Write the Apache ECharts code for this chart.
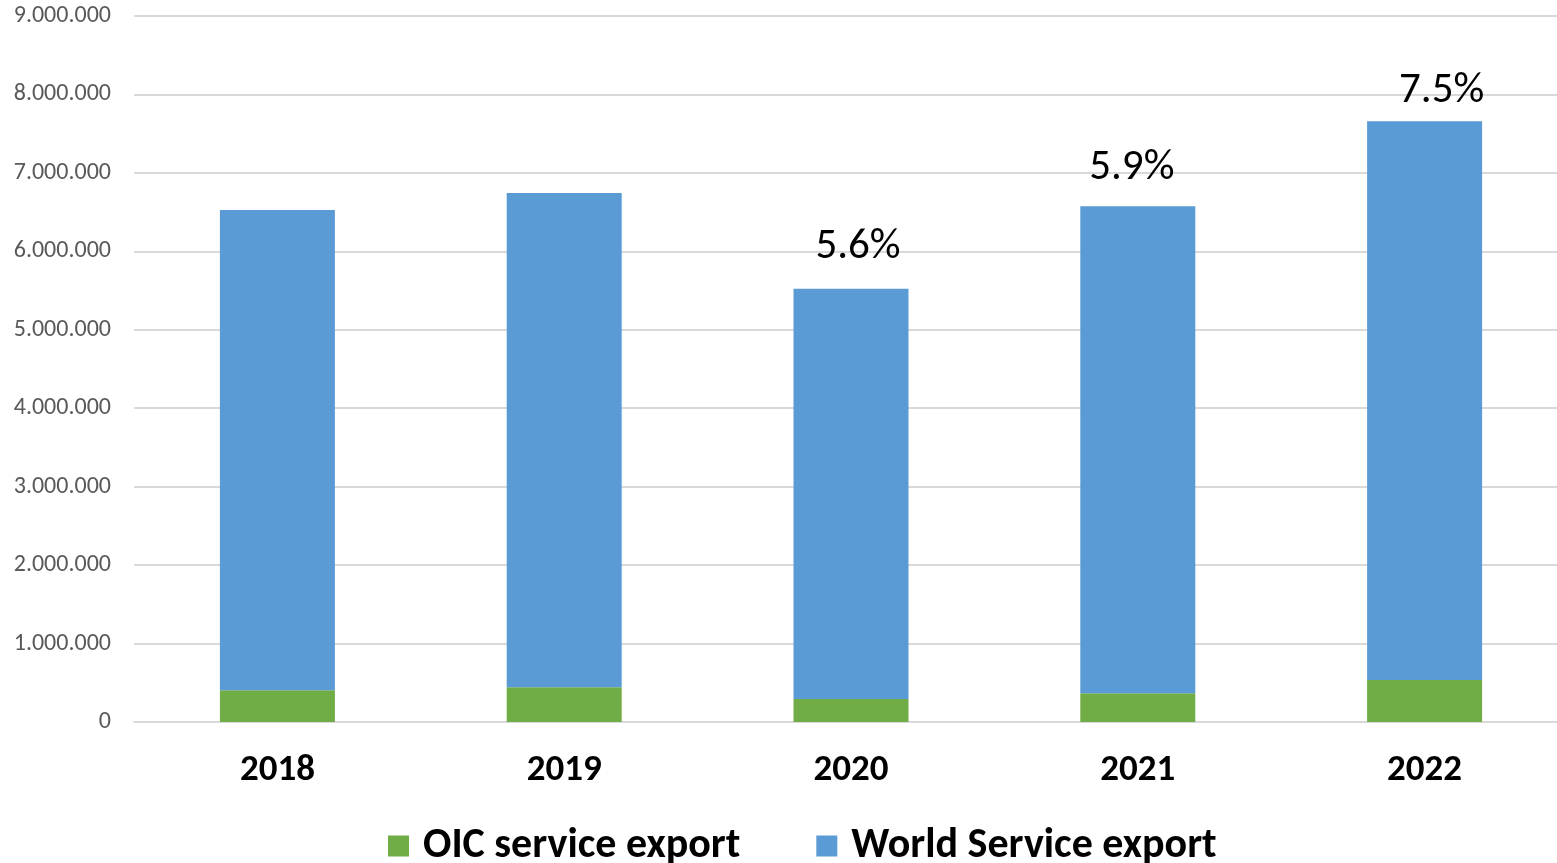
<!DOCTYPE html>
<html>
<head>
<meta charset="utf-8">
<script src="https://cdn.jsdelivr.net/npm/echarts@6/dist/echarts.min.js"></script>
<style>
  html, body { margin: 0; padding: 0; background: #ffffff; overflow: hidden; }
  #chart { width: 1568px; height: 863px; }
</style>
</head>
<body>
<div id="chart"></div>
<script>
// Service exports, OIC vs. rest of world (stacked)
const years = ['2018', '2019', '2020', '2021', '2022'];
const oicExport = [404000, 442000, 293000, 366000, 534000];
const worldExport = [6123000, 6302000, 5230000, 6210000, 7125000];
// OIC share labels shown above the last three bars
const shareLabels = ['', '', '5.6%', '5.9%', '7.5%'];
const yTicks = [0, 1000000, 2000000, 3000000, 4000000, 5000000, 6000000, 7000000, 8000000, 9000000];

// nudges for the share labels [dx, dy]
const shareLabelShift = [[0, 0], [0, 0], [7, 0], [-6, 4], [17, 12]];

const FONT = 'Carlito, Calibri, "Open Sans", "Noto Sans", sans-serif';

function fmtThousands(v) {
  return String(v).replace(/\B(?=(\d{3})+(?!\d))/g, '.');
}

const chart = echarts.init(document.getElementById('chart'), null, { renderer: 'canvas' });

chart.setOption({
  animation: false,
  backgroundColor: '#ffffff',
  textStyle: { fontFamily: FONT },
  grid: { left: 134, top: 16, width: 1434, height: 706, containLabel: false },
  legend: {
    top: 820,
    left: 383,
    itemWidth: 21,
    itemHeight: 21,
    itemGap: 76,
    icon: 'rect',
    textStyle: { fontFamily: FONT, fontSize: 42, lineHeight: 42, fontWeight: 'bold', color: '#000000', padding: [0, 0, 0, 9] },
    data: ['OIC service export', 'World Service export']
  },
  xAxis: {
    type: 'category',
    data: years,
    axisLine: { show: true, lineStyle: { color: '#d9d9d9', width: 2 } },
    axisTick: { show: false },
    axisLabel: { fontFamily: FONT, fontSize: 37, fontWeight: 'bold', color: '#000000', margin: 30 }
  },
  yAxis: {
    type: 'value',
    min: yTicks[0],
    max: yTicks[yTicks.length - 1],
    interval: yTicks[1] - yTicks[0],
    axisLine: { show: false },
    axisTick: { show: false },
    splitLine: { lineStyle: { color: '#d9d9d9', width: 2 } },
    axisLabel: {
      fontFamily: FONT, fontSize: 24, color: '#595959', margin: 23,
      formatter: v => fmtThousands(v)
    }
  },
  series: [
    {
      name: 'OIC service export',
      type: 'bar',
      stack: 'exports',
      barWidth: 115,
      itemStyle: { color: '#70AD47' },
      data: oicExport
    },
    {
      name: 'World Service export',
      type: 'bar',
      stack: 'exports',
      barWidth: 115,
      itemStyle: { color: '#5B9BD5' },
      data: worldExport.map((v, i) => ({
        value: v,
        label: {
          show: shareLabels[i] !== '',
          position: 'top',
          distance: 20,
          offset: [shareLabelShift[i][0], shareLabelShift[i][1]],
          formatter: () => shareLabels[i],
          fontFamily: FONT,
          fontSize: 43,
          color: '#000000'
        }
      }))
    }
  ]
});
</script>
</body>
</html>
